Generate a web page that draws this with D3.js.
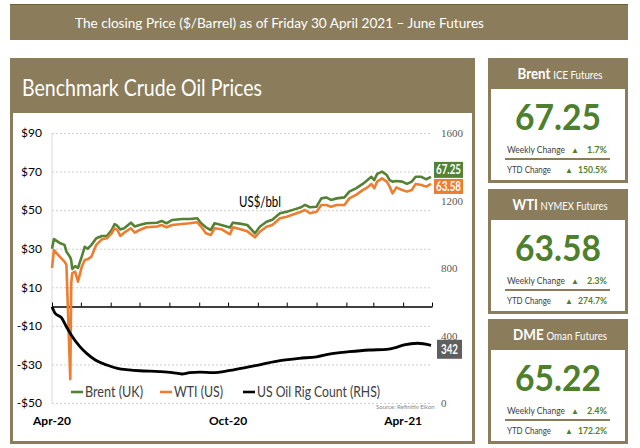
<!DOCTYPE html>
<html>
<head>
<meta charset="utf-8">
<script src="https://cdn.jsdelivr.net/npm/d3@7"></script>
<style>
body { margin: 0; background: #fff; }
svg { display: block; font-family: Lato, "Open Sans", sans-serif; }
</style>
</head>
<body>
<div id="chart"></div>
<script>
// price series (US$/bbl)
var priceDates = ["2020-04-01","2020-04-03","2020-04-09","2020-04-14","2020-04-16","2020-04-20","2020-04-21","2020-04-22","2020-04-25","2020-04-28",
    "2020-05-02","2020-05-05","2020-05-08","2020-05-12","2020-05-17","2020-05-23","2020-05-28","2020-06-02","2020-06-05","2020-06-08",
    "2020-06-11","2020-06-15","2020-06-22","2020-06-26","2020-07-01","2020-07-08","2020-07-19","2020-07-24","2020-07-29","2020-08-04",
    "2020-08-14","2020-08-22","2020-08-30","2020-09-03","2020-09-08","2020-09-13","2020-09-17","2020-09-24","2020-10-03","2020-10-06",
    "2020-10-13","2020-10-21","2020-10-29","2020-11-03","2020-11-10","2020-11-16","2020-11-24","2020-12-01","2020-12-09","2020-12-16",
    "2020-12-20","2020-12-25","2021-01-01","2021-01-06","2021-01-11","2021-01-16","2021-01-22","2021-01-30","2021-02-04","2021-02-11",
    "2021-02-18","2021-02-23","2021-02-27","2021-03-02","2021-03-05","2021-03-10","2021-03-15","2021-03-18","2021-03-21","2021-03-25",
    "2021-03-31","2021-04-05","2021-04-10","2021-04-14","2021-04-20","2021-04-25","2021-04-30"];
var brent = [30, 35, 33, 32, 28.5, 25.5, 24, 19.5, 21, 20,
    26, 31, 30, 32, 35.4, 36.6, 36.6, 39.7, 42.7, 41.8,
    40, 40.6, 43.5, 41.5, 42.3, 43.2, 43.5, 44.4, 43.2, 44.9,
    45.4, 45.4, 45.8, 43.2, 41.1, 39.7, 43.2, 42.3, 41, 43.5,
    43, 42.3, 38, 41.4, 44, 45, 48.4, 49.2, 50.4, 51.5,
    52.7, 51.5, 51.8, 56.1, 56.6, 55.3, 56.1, 56.6, 59.6, 61.3,
    63.6, 65.6, 67.3, 65.6, 68.8, 70, 68.2, 65.6, 64.8, 65.1,
    64.8, 63.6, 64.8, 67.3, 67.3, 66, 67.25];
var wti = [20, 29.3, 25.9, 23.3, 21.6, -37.6, 12, 17.3, 18.1, 12.9,
    20.7, 24.2, 24.5, 25.9, 32, 34.9, 35.4, 38, 40.6, 39.7,
    36.6, 38.3, 40.6, 38.3, 39.7, 41.1, 41.5, 42.3, 41.1, 42.3,
    42.8, 43.2, 43.7, 41.5, 38, 37.1, 40.6, 40.1, 37.5, 41.1,
    40.2, 39, 35.9, 38.8, 41.4, 42.3, 45.8, 46.6, 48, 49.2,
    50.1, 48.4, 49.2, 52.7, 52.7, 51.8, 52.7, 52.7, 56.1, 57.9,
    60.4, 61.8, 63.6, 61.3, 64.8, 66.5, 64.8, 62.2, 58.7, 61.8,
    60.4, 59.6, 60.4, 63.6, 63, 62.2, 63.58];

// US oil rig count (right axis)
var rigDates = ["2020-04-01","2020-04-04","2020-04-11","2020-04-16","2020-04-21","2020-04-30","2020-05-07","2020-05-16","2020-05-28","2020-06-08",
    "2020-06-20","2020-07-01","2020-07-22","2020-08-04","2020-08-14","2020-08-22","2020-09-02","2020-09-15","2020-10-03","2020-10-20",
    "2020-11-06","2020-11-24","2020-12-14","2021-01-01","2021-01-14","2021-02-04","2021-02-25","2021-03-15","2021-03-25","2021-04-02",
    "2021-04-16","2021-04-30"];
var rigCount = [570, 533, 504, 452, 403, 334, 294, 255, 225, 205,
    196, 191, 186, 180, 172, 180, 183, 180, 193, 211,
    231, 251, 265, 274, 290, 304, 314, 318, 330, 344,
    354, 342];

var priceTicks = [90, 70, 50, 30, 10, -10, -30, -50];
var rigTicks = [0, 400, 800, 1200, 1600];
var xLabelDates = ["2020-04-01", "2020-10-01", "2021-04-01"];
var xLabels = ["Apr-20", "Oct-20", "Apr-21"];
var legendNames = ["Brent (UK)", "WTI (US)", "US Oil Rig Count (RHS)"];
var lastLabels = ["67.25", "63.58", "342"];

// futures boxes on the right
var boxNames = ["Brent", "WTI", "DME"];
var boxSubs = ["ICE Futures", "NYMEX Futures", "Oman Futures"];
var boxPrices = ["67.25", "63.58", "65.22"];
var weeklyChange = ["1.7%", "2.3%", "2.4%"];
var ytdChange = ["150.5%", "274.7%", "172.2%"];

var tan = "#8b7d5b";
var green = "#548235";
var orange = "#ed7d31";
var textGreen = "#4e7f2c";

var parse = d3.timeParse("%Y-%m-%d");

function fit(sel, w) {
    sel.attr("textLength", w).attr("lengthAdjust", "spacingAndGlyphs");
    return sel;
}

var svg = d3.select("#chart").append("svg")
    .attr("width", 640)
    .attr("height", 448);

// top banner
svg.append("rect").attr("x", 10).attr("y", 4).attr("width", 618).attr("height", 36).attr("fill", tan);
svg.append("line").attr("x1", 10).attr("x2", 628).attr("y1", 4.5).attr("y2", 4.5).attr("stroke", "#6e5f35").attr("stroke-width", 1);
fit(svg.append("text")
    .attr("x", 75).attr("y", 28)
    .attr("fill", "#fff").attr("font-size", 14)
    .text("The closing Price ($/Barrel) as of Friday 30 April 2021 \u2013 June Futures"), 409);

// chart panel
svg.append("rect").attr("x", 10).attr("y", 58).attr("width", 465).attr("height", 386).attr("fill", tan);
svg.append("rect").attr("x", 13).attr("y", 113).attr("width", 459).attr("height", 328).attr("fill", "#fff");
fit(svg.append("text")
    .attr("x", 22).attr("y", 96)
    .attr("fill", "#fff").attr("font-size", 23)
    .text("Benchmark Crude Oil Prices"), 240);

var x = d3.scaleTime()
    .domain([new Date(2020, 3, 1), new Date(2021, 4, 1)])
    .range([52, 432]);
var yP = d3.scaleLinear().domain([-50, 90]).range([403, 133]);
var yR = d3.scaleLinear().domain([0, 1600]).range([403, 133]);

// gridlines + left labels
var gridAxis = d3.axisLeft(yP)
    .tickValues(priceTicks)
    .tickSize(-380)
    .tickPadding(10)
    .tickFormat(function (d) { return d < 0 ? "-$" + (-d) : "$" + d; });
var gy = svg.append("g").attr("transform", "translate(52,0)").call(gridAxis);
gy.select(".domain").remove();
gy.selectAll("line").attr("stroke", "#cfcfcf").attr("stroke-dasharray", "2,2");
gy.selectAll("text").attr("font-size", 12).attr("fill", "#000").attr("font-family", "Lato, sans-serif");

svg.append("line").attr("x1", 52).attr("x2", 52).attr("y1", 133).attr("y2", 403)
    .attr("stroke", "#d9d9d9").attr("stroke-width", 1);

// right axis (rig count)
var ry = svg.append("g").attr("transform", "translate(438,0)")
    .call(d3.axisRight(yR).tickValues(rigTicks).tickSize(0).tickPadding(3).tickFormat(d3.format("d")));
ry.select(".domain").remove();
ry.selectAll("text").attr("font-size", 11).attr("fill", "#595959").attr("font-family", "\"Liberation Serif\", serif");

// zero axis with monthly ticks pointing up
var xa = svg.append("g").attr("transform", "translate(0," + yP(0) + ")")
    .call(d3.axisTop(x).ticks(d3.timeMonth.every(1)).tickSize(4).tickSizeOuter(0).tickFormat(""));
xa.select(".domain").attr("stroke", "#000").attr("stroke-width", 1.5);
xa.selectAll("line").attr("stroke", "#000");

// x labels
svg.selectAll(".xlab")
    .data(xLabels)
    .enter()
    .append("text")
    .attr("class", "xlab")
    .attr("x", function (d, i) { return x(parse(xLabelDates[i])); })
    .attr("y", 425)
    .attr("text-anchor", "middle")
    .attr("font-size", 12)
    .attr("font-weight", "bold")
    .text(function (d) { return d; });

// lines
var priceRows = priceDates.map(function (d, i) {
    return { date: parse(d), brent: brent[i], wti: wti[i] };
});
var rigRows = rigDates.map(function (d, i) {
    return { date: parse(d), count: rigCount[i] };
});

svg.append("path").datum(priceRows)
    .attr("fill", "none").attr("stroke", green).attr("stroke-width", 2.6).attr("stroke-linejoin", "round")
    .attr("d", d3.line().x(function (d) { return x(d.date); }).y(function (d) { return yP(d.brent); }));
svg.append("path").datum(priceRows)
    .attr("fill", "none").attr("stroke", orange).attr("stroke-width", 2.6).attr("stroke-linejoin", "round")
    .attr("d", d3.line().x(function (d) { return x(d.date); }).y(function (d) { return yP(d.wti); }));
svg.append("path").datum(rigRows)
    .attr("fill", "none").attr("stroke", "#000").attr("stroke-width", 2.8).attr("stroke-linejoin", "round")
    .attr("d", d3.line().curve(d3.curveMonotoneX).x(function (d) { return x(d.date); }).y(function (d) { return yR(d.count); }));

// end-of-line value tags
var tags = [
    { text: lastLabels[0], y: yP(brent[brent.length - 1]) - 7, fill: green, x: 434, w: 29, h: 16, tw: 25 },
    { text: lastLabels[1], y: yP(wti[wti.length - 1]) + 2.5, fill: orange, x: 434, w: 29, h: 15, tw: 25 },
    { text: lastLabels[2], y: yR(rigCount[rigCount.length - 1]) + 4, fill: "#5f5f5f", x: 437, w: 25, h: 19, tw: 17 }
];
var tg = svg.selectAll(".tag").data(tags).enter().append("g").attr("class", "tag");
tg.append("rect")
    .attr("x", function (d) { return d.x; })
    .attr("y", function (d) { return d.y - d.h / 2; })
    .attr("width", function (d) { return d.w; })
    .attr("height", function (d) { return d.h; })
    .attr("fill", function (d) { return d.fill; });
tg.append("text")
    .attr("x", function (d) { return d.x + d.w / 2; })
    .attr("y", function (d) { return d.y + 4.5; })
    .attr("text-anchor", "middle")
    .attr("fill", "#fff")
    .attr("font-size", 12.5)
    .attr("font-weight", "bold")
    .attr("textLength", function (d) { return d.tw; })
    .attr("lengthAdjust", "spacingAndGlyphs")
    .text(function (d) { return d.text; });

// unit label
fit(svg.append("text").attr("x", 239).attr("y", 207).attr("font-size", 14.5).text("US$/bbl"), 42);

// legend
var legX = [71, 160, 243];
var legW = [58, 49, 123];
var legColor = [green, orange, "#000"];
var lg = svg.selectAll(".leg").data(legendNames).enter().append("g").attr("class", "leg");
lg.append("line")
    .attr("x1", function (d, i) { return legX[i]; })
    .attr("x2", function (d, i) { return legX[i] + 12; })
    .attr("y1", 392).attr("y2", 392)
    .attr("stroke", function (d, i) { return legColor[i]; })
    .attr("stroke-width", 2.6);
lg.append("text")
    .attr("x", function (d, i) { return legX[i] + 14; })
    .attr("y", 397)
    .attr("font-size", 15)
    .attr("fill", "#404040")
    .attr("textLength", function (d, i) { return legW[i]; })
    .attr("lengthAdjust", "spacingAndGlyphs")
    .text(function (d) { return d; });

svg.append("text").attr("x", 376).attr("y", 409).attr("font-size", 6).attr("fill", "#888")
    .text("Source: Refinitiv Eikon");

// futures boxes
var boxTop = [58, 189, 319];
var headW = [85, 95, 94];
var boxes = svg.selectAll(".box").data(boxNames).enter().append("g")
    .attr("class", "box")
    .attr("transform", function (d, i) { return "translate(0," + boxTop[i] + ")"; });
boxes.append("rect").attr("x", 488).attr("y", 0).attr("width", 140).attr("height", 125).attr("fill", tan);
boxes.append("rect").attr("x", 491).attr("y", 31).attr("width", 134).attr("height", 91).attr("fill", "#fff");
var head = boxes.append("text")
    .attr("x", 560).attr("y", 21)
    .attr("text-anchor", "middle")
    .attr("fill", "#fff")
    .attr("textLength", function (d, i) { return headW[i]; })
    .attr("lengthAdjust", "spacingAndGlyphs");
head.append("tspan").attr("font-size", 14.5).attr("font-weight", "bold").text(function (d) { return d; });
head.append("tspan").attr("font-size", 10.5).attr("dx", 3).text(function (d, i) { return boxSubs[i]; });
boxes.append("text")
    .attr("x", 558).attr("y", 72)
    .attr("text-anchor", "middle")
    .attr("fill", textGreen)
    .attr("font-size", 36)
    .attr("font-weight", "bold")
    .attr("textLength", 86)
    .attr("lengthAdjust", "spacingAndGlyphs")
    .text(function (d, i) { return boxPrices[i]; });
fit(boxes.append("text").attr("x", 507).attr("y", 95).attr("font-size", 9).attr("fill", "#404040").text("Weekly Change"), 58);
fit(boxes.append("text").attr("x", 507).attr("y", 115).attr("font-size", 9).attr("fill", "#404040").text("YTD Change"), 44);
boxes.append("line").attr("x1", 505).attr("x2", 610).attr("y1", 101).attr("y2", 101)
    .attr("stroke", tan).attr("stroke-width", 1.8);
boxes.append("text").attr("x", 575).attr("y", 95).attr("font-size", 8).attr("fill", textGreen).attr("text-anchor", "middle").text("\u25B2");
boxes.append("text").attr("x", 569).attr("y", 115).attr("font-size", 8).attr("fill", textGreen).attr("text-anchor", "middle").text("\u25B2");
fit(boxes.append("text").attr("x", 607).attr("y", 95).attr("font-size", 9.5).attr("font-weight", "bold")
    .attr("fill", textGreen).attr("text-anchor", "end").text(function (d, i) { return weeklyChange[i]; }), 20);
fit(boxes.append("text").attr("x", 607).attr("y", 115).attr("font-size", 9.5).attr("font-weight", "bold")
    .attr("fill", textGreen).attr("text-anchor", "end").text(function (d, i) { return ytdChange[i]; }), 29);
</script>
</body>
</html>
